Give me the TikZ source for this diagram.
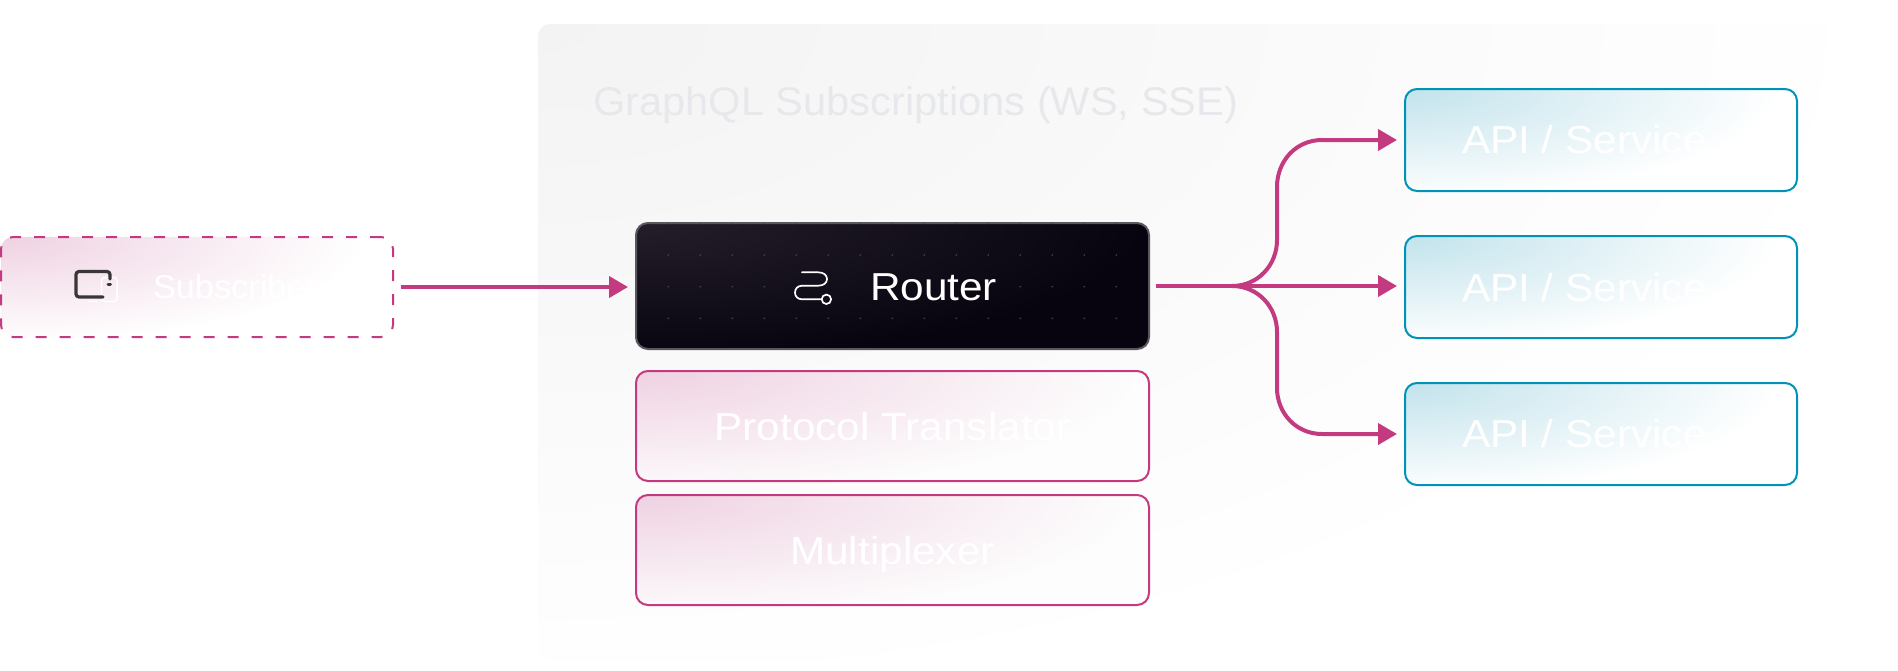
\documentclass[tikz,border=0pt]{standalone}
\usepackage{fontspec}
\setmainfont{Liberation Sans}
\newfontfamily\widefont[FakeStretch=1.085]{Liberation Sans}
\newfontfamily\midfont[FakeStretch=1.04]{Liberation Sans}
\usetikzlibrary{arrows.meta,calc}
\definecolor{flowpink}{HTML}{C43A80}
\definecolor{cyanline}{HTML}{0093B8}
\definecolor{pinktint}{HTML}{EFD2E2}
\definecolor{pinkendA}{HTML}{FFFFFF}
\definecolor{pinkendB}{HTML}{FDFDFD}
\definecolor{cyantint}{HTML}{C2E3EC}
\definecolor{cyanend}{HTML}{FFFFFF}
\definecolor{routerA}{HTML}{231E2A}
\definecolor{routerB}{HTML}{08040F}
\definecolor{routerline}{HTML}{5A585F}
\definecolor{routerdot}{HTML}{4A4752}
\definecolor{groupA}{HTML}{F3F3F3}
\definecolor{grouptext}{HTML}{E7E8EC}
\definecolor{icondark}{HTML}{3A3636}
\pgfdeclareradialshading{subshade}{\pgfpointorigin}{color(0bp)=(pinktint); color(20bp)=(pinkendA); color(50bp)=(pinkendA)}
\pgfdeclareradialshading{pinkshade}{\pgfpointorigin}{color(0bp)=(pinktint); color(20bp)=(pinkendB); color(50bp)=(pinkendB)}
\pgfdeclareradialshading{cyanshade}{\pgfpointorigin}{color(0bp)=(cyantint); color(20bp)=(cyanend); color(50bp)=(cyanend)}
\pgfdeclareradialshading{routershade}{\pgfpointorigin}{color(0bp)=(routerA); color(20bp)=(routerB); color(50bp)=(routerB)}
\pgfdeclareradialshading{groupshade}{\pgfpointorigin}{color(0bp)=(groupA); color(20bp)=(white); color(50bp)=(white)}
\newcommand\softpaint[3]{%
  \shade[shading=#1] ($(path picture bounding box.north west)+(-#2,-#3)$) rectangle ($(path picture bounding box.north west)+(#2,#3)$);}
\tikzset{
  softfill/.style n args={3}{path picture={\softpaint{#1}{#2}{#3}}},
  boxbase/.style={rectangle,rounded corners=12pt,inner sep=0pt,outer sep=0pt},
  pinkbox/.style={boxbase,draw=flowpink,line width=2pt,fill=pinkendB,minimum width=513pt,minimum height=110pt,softfill={pinkshade}{630}{158}},
  cyanbox/.style={boxbase,draw=cyanline,line width=2pt,fill=cyanend,minimum width=392pt,minimum height=102pt,softfill={cyanshade}{470}{138}},
  lbl/.style={inner sep=0pt,outer sep=0pt,text=white,font=\widefont\fontsize{39}{39}\selectfont,anchor=base west},
  flow/.style={draw=flowpink,line width=4pt,-{Triangle[length=19pt,width=21pt]},shorten >=8pt},
}
\begin{document}
\begin{tikzpicture}[x=1pt,y=-1pt]
\useasboundingbox (0,0) rectangle (1898,670);
\fill[white] (0,0) rectangle (1898,670);
% group
\node[boxbase,fill=white,minimum width=1360pt,minimum height=636pt,softfill={groupshade}{1680}{850}] (group) at (1218,342) {};
\node[inner sep=0pt,text=grouptext,font=\midfont\fontsize{40}{40}\selectfont,anchor=base west] (grouplabel) at (593,115) {GraphQL Subscriptions (WS, SSE)};
% subscriber
\node[boxbase,draw=flowpink,line width=2pt,dash pattern=on 11pt off 13pt,fill=white,minimum width=392pt,minimum height=100pt,softfill={subshade}{455}{132}] (sub) at (197,287) {};
\draw[white,line width=1.5pt,rounded corners=3pt] (101.5,277.5) rectangle (117,301.5);
\draw[white,line width=1.5pt] (88,301.7) -- (97,301.7);
\draw[icondark,line width=3.2pt,rounded corners=3pt,line cap=round] (110,279) -- (110,271.5) -- (76,271.5) -- (76,297) -- (103,297);
\draw[icondark,line width=3pt,line cap=round] (108,284) -- (110.5,284);
\node[lbl,font=\midfont\fontsize{33}{33}\selectfont] (sublabel) at (153,298) {Subscriber};
% router
\node[boxbase,draw=routerline,line width=2pt,fill=routerB,minimum width=513pt,minimum height=126pt,softfill={routershade}{640}{170}] (router) at (892.5,286) {};
\foreach \dy in {223.5,255,318.3} \foreach \i in {0,...,14}
  \fill[routerdot] ({668.2+32*\i},\dy) circle (0.9pt);
\foreach \i in {0,1,2,3,11,12,13,14}
  \fill[routerdot] ({668.2+32*\i},286.7) circle (0.9pt);
\draw[white,line width=1.7pt,line cap=round] (802,272.3) -- (818,272.3) .. controls (823.5,272.3) and (827,275) .. (827,279) .. controls (827,283) and (823.5,285.7) .. (818,285.7) -- (802,285.7) .. controls (798,285.7) and (795,288.5) .. (795,292.7) .. controls (795,296.5) and (798,299.3) .. (802,299.3) -- (821.5,299.3);
\draw[white,line width=1.7pt] (826.4,299.3) circle (4.7pt);
\node[lbl] (routerlabel) at (870,300) {Router};
% stack
\node[pinkbox] (proto) at (892.5,426) {};
\node[lbl,anchor=base] (protolabel) at (proto.center |- 0,440) {Protocol Translator};
\node[pinkbox] (mux) at (892.5,550) {};
\node[lbl,anchor=base] (muxlabel) at (mux.center |- 0,564) {Multiplexer};
% services
\node[cyanbox] (apia) at (1601,140) {};
\node[lbl] (apialabel) at (1462,153) {API / Service};
\node[cyanbox] (apib) at (1601,287) {};
\node[lbl] (apiblabel) at (1462,301.5) {API / Service};
\node[cyanbox] (apic) at (1601,434) {};
\node[lbl] (apiclabel) at (1462,447) {API / Service};
% connectors
\draw[flow,shorten <=8pt] (sub.east) -- (sub.east -| router.west);
\coordinate (fork) at (1232,286);
\draw[flow,shorten <=7pt] (router.east) -- (router.east -| apib.west);
\draw[flow] (fork) .. controls (1258,286) and (1277,265) .. (1277,240) -- (1277,187) .. controls (1277,161) and (1296,140) .. (1322,140) -- (apia.west);
\draw[flow] (fork) .. controls (1258,286) and (1277,307) .. (1277,332) -- (1277,388) .. controls (1277,413) and (1296,434) .. (1322,434) -- (apic.west);
\end{tikzpicture}
\end{document}
